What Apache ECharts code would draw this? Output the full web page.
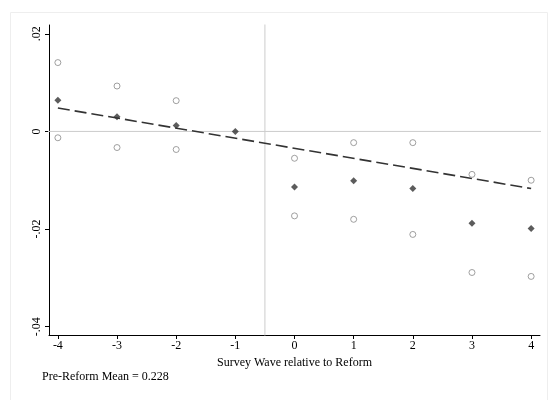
<!DOCTYPE html><html><head><meta charset="utf-8"><script src="https://cdn.jsdelivr.net/npm/echarts@6/dist/echarts.min.js"></script></head><body style="margin:0"><div id="c" style="width:548px;height:400px"></div><script>
var waves=[-4,-3,-2,-1,0,1,2,3,4];
var est=[0.0064,0.0030,0.0012,0,-0.0114,-0.0101,-0.0117,-0.0188,-0.0199];
var upper=[0.0141,0.0093,0.0063,null,-0.0055,-0.0023,-0.0023,-0.0088,-0.0100];
var lower=[-0.0013,-0.0033,-0.0037,null,-0.0173,-0.0180,-0.0211,-0.0289,-0.0297];
var fitX=[-4,4], fitY=[0.0048,-0.0117];
var yTicks=[0.02,0,-0.02,-0.04];
var F='Liberation Serif';
function pts(a){return waves.map(function(w,i){return a[i]==null?null:[w,a[i]];}).filter(Boolean);}
var ch=echarts.init(document.getElementById('c'));
ch.setOption({backgroundColor:'#fff',animation:false,
grid:{left:49,right:8,top:25,bottom:65},
xAxis:{type:'value',min:-4.15,max:4.15,name:'Survey Wave relative to Reform',nameLocation:'middle',nameGap:21,nameTextStyle:{fontFamily:F,fontSize:12,color:'#000'},
 axisLine:{show:true,onZero:false,lineStyle:{color:'#000'}},splitLine:{show:false},axisTick:{show:true,length:4,lineStyle:{color:'#000'},customValues:waves},
 axisLabel:{customValues:waves,fontFamily:F,fontSize:12,color:'#000',margin:5}},
yAxis:{type:'value',min:-0.0417,max:0.0218,axisLine:{show:true,onZero:false,lineStyle:{color:'#000'}},splitLine:{show:false},
 axisTick:{show:true,length:4,lineStyle:{color:'#000'},customValues:yTicks},
 axisLabel:{customValues:yTicks,rotate:90,fontFamily:F,fontSize:12,color:'#000',margin:6,
  formatter:function(v){if(Math.abs(v)<1e-9)return '0';var s=Math.abs(v).toFixed(2).replace(/^0/,'');return (v<0?'-':'')+s;}}},
graphic:[{type:'rect',shape:{x:10.5,y:12.5,width:537,height:390},style:{fill:'none',stroke:'#eee',lineWidth:1},silent:true},
 {type:'text',left:42,top:371,style:{text:'Pre-Reform Mean = 0.228',font:'12px "Liberation Serif"',fill:'#000'}}],
series:[
{type:'line',data:[[-0.5,-0.05],[-0.5,0.03]],symbol:'none',lineStyle:{color:'#ccc',width:1},silent:true,clip:true,z:1},
{type:'line',data:[[-5,0],[5,0]],symbol:'none',lineStyle:{color:'#ccc',width:1},silent:true,clip:true,z:1},
{type:'line',data:fitX.map(function(x,i){return [x,fitY[i]];}),symbol:'none',lineStyle:{color:'#333',width:1.6,type:[12,5]},z:2},
{type:'scatter',data:pts(upper),symbol:'circle',symbolSize:6,itemStyle:{color:'#fff',borderColor:'#888',borderWidth:1},z:3},
{type:'scatter',data:pts(lower),symbol:'circle',symbolSize:6,itemStyle:{color:'#fff',borderColor:'#888',borderWidth:1},z:3},
{type:'scatter',data:pts(est),symbol:'diamond',symbolSize:7,itemStyle:{color:'#333'},z:4}
]});
</script></body></html>
